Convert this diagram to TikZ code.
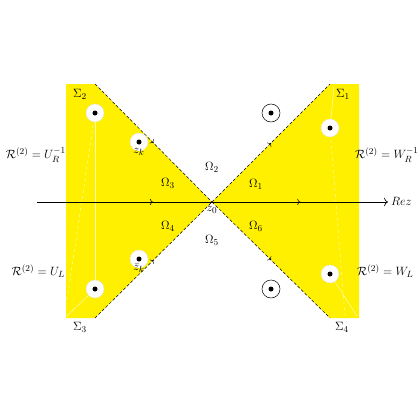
\documentclass[tikz,border=0pt]{standalone}
\usetikzlibrary{decorations.markings,arrows.meta}
\definecolor{yel}{RGB}{255,240,0}
\begin{document}
\begin{tikzpicture}[x=1pt,y=-1pt,
  yel/.style={fill=yel,draw=none},
  cut/.style={draw=black,dash pattern=on 3pt off 2pt,line width=0.5pt},
  midarrow/.style={postaction={decorate,decoration={markings,mark=at position #1 with {\arrow[solid]{>}}}}},
  hole/.style={circle,fill=white,draw=gray!25,line width=0.3pt,minimum size=18pt,inner sep=0pt},
  ring/.style={circle,fill=white,draw=black,line width=0.5pt,minimum size=18pt,inner sep=0pt},
  dot/.style={circle,fill=black,minimum size=5pt,inner sep=0pt},
  lab/.style={inner sep=0pt,font=\fontsize{12.5}{14}\selectfont},
  wline/.style={draw=white,line width=0.5pt,opacity=0.7}]
\useasboundingbox (0,0) rectangle (420,420);
% yellow regions
\fill[yel] (66,84) -- (95,84) -- (212,202) -- (95,318) -- (66,318) -- cycle;
\fill[yel] (359,84) -- (330,84) -- (212,202) -- (330,318) -- (359,318) -- cycle;
\coordinate (z0) at (212,202);
\coordinate (tl) at (95,84);
\coordinate (bl) at (95,318);
\coordinate (tr) at (330,84);
\coordinate (br) at (330,318);
% faint white lines
\draw[wline] (95,113) -- (95,289);
\draw[wline,dashed] (95,113) -- (67,300);
\draw[wline] (95,289) -- (67,316);
\draw[wline] (330,128) -- (334,86);
\draw[wline,dashed] (330,128) -- (345,316);
\draw[wline] (330,274) -- (357,316);
% dashed contours
\draw[cut,midarrow=0.5] (tl) -- (z0);
\draw[cut,midarrow=0.5] (z0) -- (tr);
\draw[cut,midarrow=0.5] (bl) -- (z0);
\draw[cut,midarrow=0.5] (z0) -- (br);
% axis
\coordinate (ax0) at (37,202);
\coordinate (ax1) at (388,202);
\draw[line width=0.6pt,-{To[length=4pt]},midarrow=0.33,midarrow=0.75] (ax0) -- (ax1);
\node[lab,anchor=west] (rez) at (391,201) {$Re z$};
% holes
\node[hole] (h1) at (95,113) {}; \node[dot] at (h1) {};
\node[hole] (h2) at (139,142) {}; \node[dot] at (h2) {};
\node[hole] (h3) at (139,259) {}; \node[dot] at (h3) {};
\node[hole] (h4) at (95,289) {}; \node[dot] at (h4) {};
\node[hole] (h5) at (330,128) {}; \node[dot] at (h5) {};
\node[hole] (h6) at (330,274) {}; \node[dot] at (h6) {};
\node[ring] (r1) at (271,113) {}; \node[dot] at (r1) {};
\node[ring] (r2) at (271,289) {}; \node[dot] at (r2) {};
% labels
\node[lab] (zk) at (139,152) {$z_k$};
\node[lab] (zkb) at (139,268) {$\bar z_k$};
\node[lab] (z0l) at (212,210) {$z_0$};
\node[lab] (s2) at (80,94) {$\Sigma_2$};
\node[lab] (s1) at (343,94) {$\Sigma_1$};
\node[lab] (s3) at (80,327) {$\Sigma_3$};
\node[lab] (s4) at (342,327) {$\Sigma_4$};
\node[lab] (o2) at (212,167) {$\Omega_2$};
\node[lab] (o3) at (168,183) {$\Omega_3$};
\node[lab] (o1) at (256,184) {$\Omega_1$};
\node[lab] (o4) at (168,226) {$\Omega_4$};
\node[lab] (o6) at (256,226) {$\Omega_6$};
\node[lab] (o5) at (212,240) {$\Omega_5$};
\node[lab,anchor=east] (l1) at (66,155) {$\mathcal{R}^{(2)}=U_R^{-1}$};
\node[lab,anchor=west] (l2) at (355,155) {$\mathcal{R}^{(2)}=W_R^{-1}$};
\node[lab,anchor=east] (l3) at (65,271) {$\mathcal{R}^{(2)}=U_L$};
\node[lab,anchor=west] (l4) at (357,271) {$\mathcal{R}^{(2)}=W_L$};
\end{tikzpicture}
\end{document}
